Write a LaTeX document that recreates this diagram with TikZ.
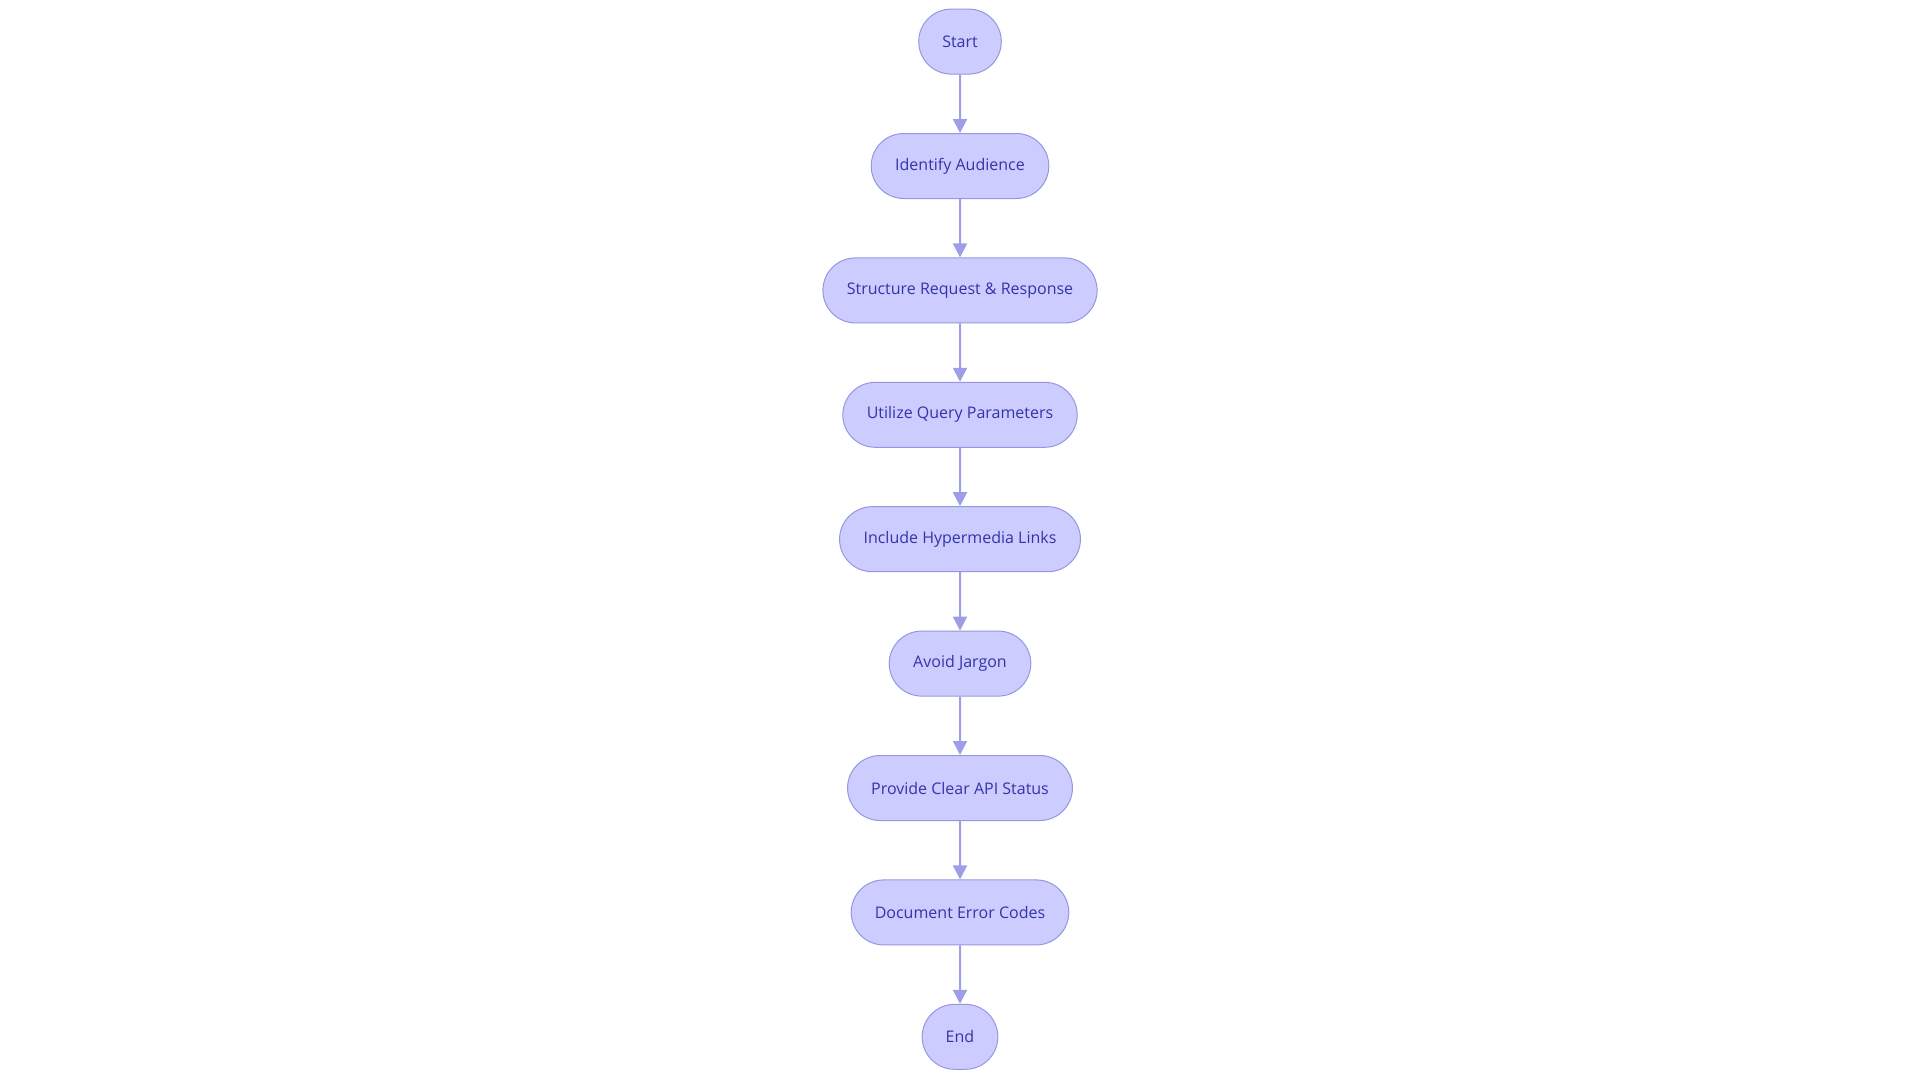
\documentclass[tikz,border=0pt]{standalone}
\usepackage{fontspec}
\setmainfont{Open Sans}
\usetikzlibrary{arrows.meta,shapes.misc}
\definecolor{boxfill}{RGB}{204,204,255}
\definecolor{boxline}{RGB}{150,150,225}
\definecolor{boxtext}{RGB}{52,52,170}
\definecolor{flowline}{RGB}{158,158,232}
\tikzset{
  stepbox/.style={rounded rectangle,draw=boxline,fill=boxfill,line width=1pt,
    minimum height=65pt,inner xsep=23pt,text=boxtext,
    font=\fontsize{16}{19}\selectfont},
  flow/.style={draw=flowline,line width=2pt,-{Triangle[length=14pt,width=14pt]}}
}
\begin{document}
\begin{tikzpicture}[x=1pt,y=-1pt]
\useasboundingbox (0,0) rectangle (1920,1080);
\pgfmathsetmacro{\gap}{124.4}
\foreach \n/\t [count=\i from 0] in {start/Start,aud/Identify Audience,
  req/Structure Request \& Response,qry/Utilize Query Parameters,
  hyp/Include Hypermedia Links,jar/Avoid Jargon,sts/Provide Clear API Status,
  err/Document Error Codes,end/End}
  \node[stepbox] (\n) at (960,41.6+\gap*\i) {\t};
\foreach \a/\b in {start/aud,aud/req,req/qry,qry/hyp,hyp/jar,jar/sts,sts/err,err/end}
  \draw[flow] (\a) -- (\b);
\end{tikzpicture}
\end{document}
